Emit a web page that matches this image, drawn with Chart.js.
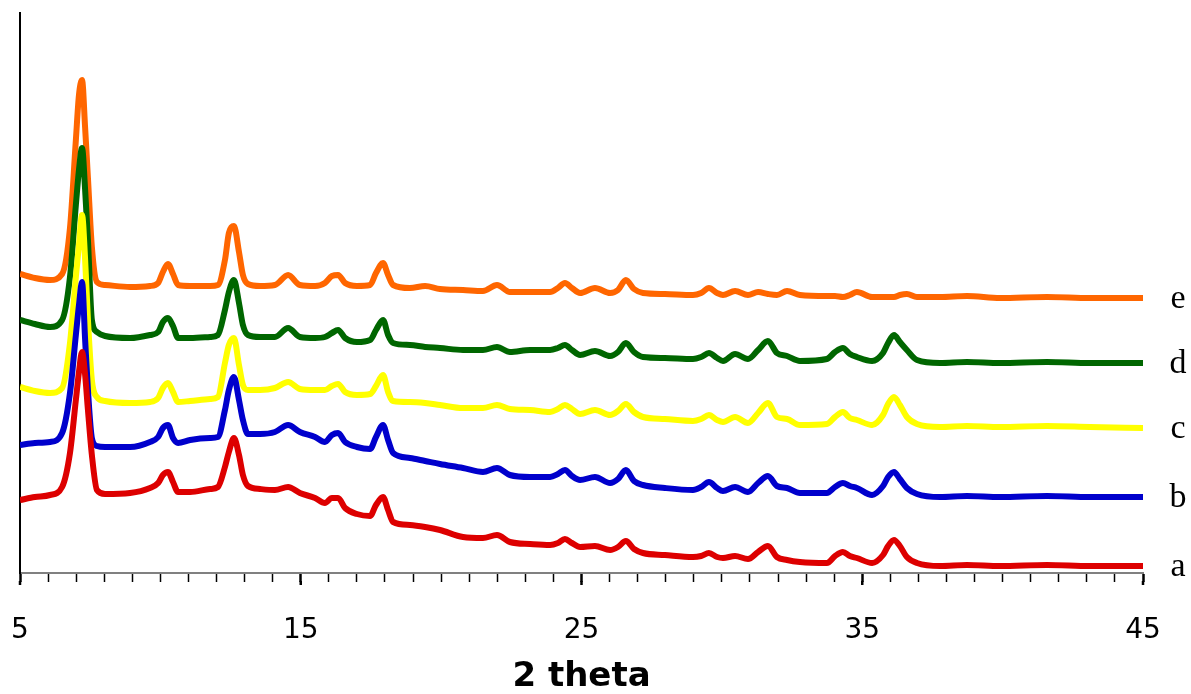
<!DOCTYPE html>
<html>
<head>
    <title>XRD patterns</title>
    <script src="https://cdn.jsdelivr.net/npm/chart.js"></script>
    <style>
        html, body { margin: 0; padding: 0; background: #fff; }
        .frame { width: 1191px; height: 694px; position: relative; }
    </style>
</head>
<body>
    <div class="frame">
        <canvas id="xrdChart"></canvas>
    </div>

    <script>
        const twoTheta = [
            5.00, 5.53, 6.07, 6.50, 6.78, 6.99, 7.10, 7.21, 7.32, 7.42,
            7.56, 7.74, 8.03, 8.92, 9.63, 9.92, 10.09, 10.27, 10.45, 10.63,
            11.06, 11.77, 12.05, 12.30, 12.44, 12.62, 12.80, 12.94, 13.12, 13.55,
            14.08, 14.55, 14.97, 15.51, 15.86, 16.11, 16.33, 16.58, 17.00, 17.47,
            17.68, 17.93, 18.11, 18.29, 18.89, 19.43, 19.96, 20.78, 21.49, 21.99,
            22.45, 23.17, 23.88, 24.16, 24.41, 24.66, 24.95, 25.48, 26.02, 26.30,
            26.58, 26.87, 27.19, 27.97, 28.97, 29.26, 29.54, 29.83, 30.04, 30.47,
            30.93, 31.29, 31.64, 31.96, 32.32, 32.78, 33.74, 34.03, 34.31, 34.56,
            34.81, 35.35, 35.74, 35.92, 36.13, 36.34, 36.59, 36.95, 37.77, 38.73,
            39.91, 41.58, 43.11, 45.00
        ];

        // intensities (arbitrary units, traces already offset)
        const seriesA = [
            73, 76, 78, 86, 120, 173, 201, 221, 198, 163,
            118, 83, 79, 80, 85, 90, 98, 101, 91, 81,
            81, 84, 86, 106, 121, 135, 118, 98, 87, 84,
            83, 86, 80, 75, 70, 75, 75, 65, 59, 57,
            68, 76, 63, 51, 48, 46, 43, 36, 35, 38,
            31, 29, 28, 30, 34, 30, 26, 27, 23, 26,
            32, 24, 20, 18, 16, 17, 20, 16, 15, 17,
            14, 21, 27, 16, 13, 11, 10, 17, 21, 17,
            15, 10, 18, 27, 33, 27, 16, 10, 7, 8,
            7, 8, 7, 7
        ];
        const seriesB = [
            128, 130, 131, 140, 180, 238, 268, 291, 233, 183,
            135, 127, 126, 126, 131, 136, 145, 148, 135, 130,
            133, 135, 136, 163, 183, 196, 173, 153, 139, 139,
            141, 148, 141, 136, 131, 138, 140, 131, 126, 124,
            136, 148, 133, 120, 115, 112, 109, 105, 101, 105,
            98, 96, 96, 99, 103, 97, 93, 96, 90, 94,
            103, 92, 88, 85, 83, 86, 91, 85, 82, 86,
            81, 90, 97, 87, 85, 80, 80, 86, 90, 87,
            85, 78, 87, 96, 101, 94, 85, 79, 76, 77,
            76, 77, 76, 76
        ];
        const seriesC = [
            186, 182, 180, 185, 230, 296, 328, 358, 313, 253,
            193, 176, 172, 170, 171, 175, 185, 190, 181, 171,
            172, 174, 176, 210, 228, 235, 208, 188, 183, 183,
            185, 191, 184, 183, 183, 187, 189, 181, 178, 179,
            187, 198, 181, 172, 171, 170, 168, 165, 165, 168,
            164, 163, 161, 164, 168, 164, 159, 163, 158, 162,
            169, 161, 156, 154, 152, 154, 158, 153, 151, 156,
            150, 160, 170, 156, 154, 148, 149, 156, 161, 155,
            153, 148, 158, 169, 176, 168, 156, 149, 146, 147,
            146, 147, 146, 145
        ];
        const seriesD = [
            253, 249, 246, 253, 296, 368, 403, 425, 383, 333,
            253, 241, 237, 235, 238, 241, 251, 255, 247, 235,
            235, 236, 238, 263, 281, 293, 270, 248, 238, 236,
            236, 245, 236, 235, 236, 240, 243, 235, 231, 233,
            243, 253, 238, 230, 228, 226, 225, 223, 223, 226,
            221, 223, 223, 225, 228, 223, 218, 222, 217, 221,
            230, 221, 216, 215, 214, 216, 220, 215, 212, 219,
            214, 223, 232, 220, 217, 212, 214, 221, 225, 219,
            216, 212, 220, 230, 238, 231, 223, 213, 210, 211,
            210, 211, 210, 210
        ];
        const seriesE = [
            299, 295, 293, 299, 345, 433, 478, 493, 445, 395,
            326, 291, 288, 286, 287, 290, 301, 309, 299, 288,
            287, 287, 288, 313, 340, 347, 321, 298, 289, 287,
            288, 298, 288, 287, 290, 297, 298, 290, 287, 288,
            300, 310, 298, 288, 285, 287, 284, 283, 282, 288,
            281, 281, 281, 285, 290, 285, 280, 285, 280, 283,
            293, 284, 280, 279, 278, 280, 285, 280, 278, 282,
            278, 281, 279, 278, 282, 278, 277, 277, 276, 278,
            281, 276, 276, 276, 276, 278, 279, 276, 276, 277,
            275, 276, 275, 275
        ];

        const seriesLabels = ['a', 'b', 'c', 'd', 'e'];
        const seriesColors = ['#dd0000', '#0000cc', '#ffff00', '#006600', '#ff6600'];
        const allSeries = [seriesA, seriesB, seriesC, seriesD, seriesE];
        const majorTicks = [5, 15, 25, 35, 45];

        // letters a..e at the right end of each trace, longer major ticks
        const endLabels = {
            id: 'endLabels',
            afterDatasetsDraw(chart) {
                const ctx = chart.ctx;
                const xs = chart.scales.x;
                ctx.save();
                ctx.strokeStyle = '#000';
                ctx.lineWidth = 2.5;
                majorTicks.forEach((v) => {
                    const px = xs.getPixelForValue(v);
                    ctx.beginPath();
                    ctx.moveTo(px, xs.top + 8);
                    ctx.lineTo(px, xs.top + 12);
                    ctx.stroke();
                });
                ctx.font = '34px "Liberation Serif", "DejaVu Serif", serif';
                ctx.fillStyle = '#000';
                ctx.textAlign = 'center';
                ctx.textBaseline = 'alphabetic';
                chart.data.datasets.forEach((ds, i) => {
                    const meta = chart.getDatasetMeta(i);
                    const last = meta.data[meta.data.length - 1];
                    ctx.fillText(ds.label, chart.chartArea.right + 35, last.y + 10);
                });
                ctx.restore();
            }
        };

        const ctx = document.getElementById('xrdChart').getContext('2d');

        new Chart(ctx, {
            type: 'line',
            data: {
                datasets: allSeries.map((values, i) => ({
                    label: seriesLabels[i],
                    data: twoTheta.map((t, j) => ({ x: t, y: values[j] })),
                    borderColor: seriesColors[i],
                    borderWidth: 6,
                    pointRadius: 0,
                    cubicInterpolationMode: 'monotone',
                    fill: false,
                })),
            },
            options: {
                responsive: true,
                maintainAspectRatio: false,
                animation: false,
                layout: {
                    padding: { left: 20, right: 48, top: 13, bottom: 0 },
                },
                plugins: {
                    legend: { display: false },
                    tooltip: { enabled: false },
                },
                scales: {
                    x: {
                        type: 'linear',
                        min: 5,
                        max: 45,
                        // fixed axis band under the plot
                        afterFit: (scale) => {
                            scale.height = 121;
                            scale.paddingLeft = 0;
                            scale.paddingRight = 0;
                        },
                        border: { display: true, color: '#808080', width: 2 },
                        grid: {
                            drawOnChartArea: false,
                            drawTicks: true,
                            tickLength: 9,
                            tickColor: '#000',
                            tickWidth: (c) => ((c.tick && (c.tick.value - 5) % 10 === 0) ? 2.5 : 1.5),
                        },
                        ticks: {
                            stepSize: 1,
                            autoSkip: false,
                            maxRotation: 0,
                            padding: 32,
                            color: '#000',
                            font: { family: '"DejaVu Sans", Verdana, sans-serif', size: 28 },
                            callback: (v) => ((v - 5) % 10 === 0 ? String(v) : ''),
                        },
                        title: {
                            display: true,
                            text: '2 theta',
                            color: '#000',
                            font: { family: '"DejaVu Sans", Verdana, sans-serif', size: 34, weight: 'bold', lineHeight: 1 },
                            padding: { top: 0, bottom: 0 },
                        },
                    },
                    y: {
                        min: 0,
                        max: 560,
                        border: { display: true, color: '#000', width: 2 },
                        grid: { drawOnChartArea: false, drawTicks: false },
                        ticks: { display: false },
                    },
                },
            },
            plugins: [endLabels],
        });
    </script>
</body>
</html>
